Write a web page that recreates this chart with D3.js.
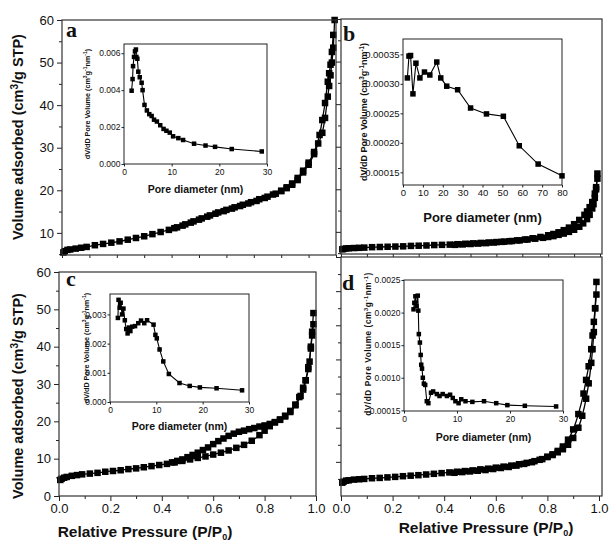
<!DOCTYPE html>
<html><head><meta charset="utf-8">
<script src="https://cdn.jsdelivr.net/npm/d3@7"></script>
<style>
body{margin:0;background:#fff}
svg{display:block}
text{font-family:"Liberation Sans",Arial,Helvetica,sans-serif;fill:#111}
</style>
</head><body>
<svg id="chart" width="609" height="546"></svg>
<script>
// ---------------- DATA ----------------
// Main isotherms: relative pressure (P/P0) and volume adsorbed (cm3/g STP)
const aAdsP = [0.005,0.01,0.02,0.03,0.05,0.07,0.09,0.12,0.15,0.18,0.21,0.24,0.27,0.30,0.33,0.36,0.39,0.42,0.45,0.48,0.51,0.54,0.57,0.60,0.63,0.66,0.69,0.72,0.75,0.78,0.80,0.82,0.84,0.86,0.88,0.90,0.92,0.935,0.95,0.96,0.97,0.975,0.98,0.985,0.99,0.995];
const aAdsV = [5.4,5.7,6.0,6.1,6.3,6.5,6.7,7.1,7.4,7.7,8.0,8.4,8.8,9.2,9.7,10.2,10.7,11.3,12.0,12.7,13.4,14.1,14.8,15.4,16.0,16.6,17.2,17.9,18.5,19.2,19.8,20.5,21.3,22.4,24.2,26.0,28.5,31.0,33.5,37.0,42.0,44.5,47.0,50.0,53.5,60.0];
const aDesP = [0.99,0.985,0.98,0.975,0.97,0.96,0.95,0.94,0.92,0.90,0.88,0.86,0.84,0.82,0.80,0.77,0.74,0.71,0.68,0.65,0.62,0.59,0.56,0.53,0.50,0.47,0.44,0.41];
const aDesV = [56.5,52.5,49.5,47.5,45.5,40.5,36.5,33.0,29.0,26.5,24.6,22.9,21.6,20.7,19.9,19.0,18.2,17.5,16.9,16.3,15.7,15.1,14.5,13.8,13.1,12.4,11.7,11.1];

const bAdsP = [0.005,0.01,0.02,0.03,0.05,0.07,0.09,0.12,0.15,0.18,0.21,0.24,0.27,0.30,0.33,0.36,0.39,0.42,0.45,0.48,0.51,0.54,0.57,0.60,0.63,0.66,0.69,0.72,0.75,0.78,0.80,0.82,0.84,0.86,0.88,0.90,0.92,0.935,0.95,0.96,0.97,0.975,0.98,0.985,0.99];
const bAdsV = [5.9,6.0,6.1,6.15,6.2,6.25,6.3,6.4,6.45,6.5,6.55,6.6,6.7,6.75,6.8,6.9,6.95,7.0,7.1,7.2,7.3,7.4,7.5,7.6,7.7,7.85,8.0,8.2,8.4,8.6,8.8,9.0,9.3,9.6,10.0,10.5,11.2,12.0,13.0,14.0,15.5,16.5,18.0,20.0,23.7];
const bDesP = [0.99,0.985,0.98,0.97,0.96,0.95,0.94,0.92,0.90,0.88,0.86,0.84,0.82,0.80,0.77,0.74,0.71,0.68,0.65,0.62,0.59,0.56,0.53,0.50,0.47,0.44];
const bDesV = [22.5,20.5,19.0,17.0,15.8,14.8,14.0,12.8,11.8,11.0,10.4,9.9,9.5,9.2,8.8,8.5,8.2,8.0,7.8,7.65,7.5,7.35,7.25,7.15,7.05,6.95];

const cAdsP = [0.005,0.01,0.02,0.03,0.05,0.07,0.09,0.12,0.15,0.18,0.21,0.24,0.27,0.30,0.33,0.36,0.39,0.42,0.45,0.48,0.51,0.54,0.57,0.60,0.63,0.66,0.69,0.72,0.75,0.78,0.80,0.82,0.84,0.86,0.88,0.90,0.92,0.935,0.95,0.96,0.97,0.975,0.98,0.985,0.99];
const cAdsV = [4.3,4.6,4.9,5.1,5.4,5.6,5.8,6.0,6.2,6.5,6.7,6.9,7.2,7.4,7.7,8.0,8.3,8.6,9.0,9.4,9.8,10.2,10.6,11.1,11.6,12.2,12.9,13.7,14.8,16.3,17.5,18.7,19.7,20.5,21.5,22.8,24.5,26.5,29.0,31.0,34.0,36.0,40.0,44.0,49.0];
const cDesP = [0.99,0.985,0.98,0.97,0.96,0.95,0.94,0.92,0.90,0.88,0.86,0.84,0.82,0.80,0.78,0.76,0.74,0.72,0.70,0.68,0.66,0.64,0.62,0.60,0.58,0.56,0.54,0.52,0.50,0.48,0.46,0.44];
const cDesV = [46.0,43.0,39.5,34.5,31.0,28.5,26.8,24.3,22.5,21.3,20.4,19.8,19.3,18.9,18.6,18.2,17.9,17.5,17.2,16.7,16.1,15.4,14.7,13.9,13.0,12.3,11.6,11.0,10.4,9.8,9.4,9.0];

const dAdsP = [0.005,0.01,0.02,0.03,0.05,0.07,0.09,0.12,0.15,0.18,0.21,0.24,0.27,0.30,0.33,0.36,0.39,0.42,0.45,0.48,0.51,0.54,0.57,0.60,0.63,0.66,0.69,0.72,0.75,0.78,0.80,0.82,0.84,0.86,0.88,0.90,0.92,0.935,0.95,0.96,0.97,0.975,0.98,0.985,0.99];
const dAdsV = [3.9,4.2,4.5,4.6,4.8,4.9,5.0,5.2,5.3,5.45,5.6,5.8,5.95,6.1,6.3,6.5,6.7,6.9,7.1,7.3,7.5,7.8,8.0,8.3,8.6,8.9,9.3,9.7,10.2,10.8,11.4,12.0,12.8,13.7,15.0,17.0,20.0,23.5,28.5,33.0,39.0,43.0,48.0,55.0,62.7];
const dDesP = [0.99,0.985,0.98,0.975,0.97,0.96,0.95,0.94,0.92,0.90,0.88,0.86,0.84,0.82,0.80,0.77,0.74,0.71,0.68,0.65,0.62,0.59,0.56,0.53,0.50,0.47,0.44];
const dDesV = [59.0,55.0,51.0,47.0,43.0,38.0,34.0,30.0,24.0,19.5,16.5,14.5,13.2,12.2,11.5,10.6,9.9,9.4,8.9,8.5,8.2,7.9,7.6,7.4,7.2,7.0,6.8];

// Insets: pore diameter (nm) and dV/dD pore volume
const aPoreD = [1.6,1.8,1.9,2.1,2.3,2.5,2.6,2.8,3.0,3.3,3.7,3.9,4.3,4.8,5.3,5.8,6.3,6.9,7.6,8.3,8.9,9.6,10.3,11.4,12.4,14.7,17.1,19.1,22.6,28.9];
const aPoreV = [0.00397,0.0046,0.0053,0.0058,0.0061,0.0062,0.0058,0.0057,0.0050,0.0047,0.0044,0.0040,0.0032,0.0029,0.0027,0.0026,0.0024,0.0023,0.0021,0.0019,0.0018,0.0017,0.0015,0.0014,0.0013,0.0011,0.0010,0.00093,0.00081,0.00068];
const bPoreD = [2.2,3.0,3.8,5.0,6.5,8.5,10.8,13.5,17.0,19.0,22.0,27.5,34.0,42.0,50.5,58.5,68.0,80.0];
const bPoreV = [0.000310,0.000347,0.000348,0.000283,0.000335,0.000310,0.000320,0.000315,0.000337,0.000310,0.000296,0.000290,0.000259,0.000249,0.000245,0.000195,0.000164,0.000144];
const cPoreD = [1.7,1.85,2.1,2.3,2.6,2.9,3.2,3.5,3.8,4.1,4.4,4.8,5.4,6.1,6.7,7.4,8.0,9.4,9.8,10.1,10.7,11.5,12.7,15.0,17.2,19.4,23.0,28.5];
const cPoreV = [0.00288,0.0035,0.00323,0.0034,0.0030,0.0032,0.0028,0.0025,0.00235,0.00255,0.00243,0.00258,0.0026,0.0027,0.00279,0.0027,0.0028,0.00265,0.0023,0.00218,0.0018,0.00139,0.00096,0.00065,0.00055,0.0005,0.00047,0.0004];
const dPoreD = [1.8,1.95,2.15,2.35,2.6,2.7,2.8,3.0,3.15,3.25,3.4,3.55,3.75,4.0,4.3,4.6,5.1,5.5,6.2,6.7,7.3,8.1,8.7,9.2,9.7,10.3,10.8,11.6,12.9,15.1,17.4,19.5,22.8,28.7];
const dPoreV = [0.00205,0.00215,0.00225,0.0021,0.00226,0.00203,0.00167,0.00154,0.00135,0.0012,0.00114,0.0010,0.00091,0.00089,0.00064,0.00061,0.00077,0.00079,0.00075,0.00072,0.00075,0.00072,0.00074,0.00069,0.00064,0.00061,0.00067,0.00064,0.00063,0.00064,0.00061,0.00058,0.00057,0.00056];

// Tick labels
const pressureTicks = [0.0,0.2,0.4,0.6,0.8,1.0];
const volumeTicks = [0,10,20,30,40,50,60];
const insetTicksA = [0,0.002,0.004,0.006];
const insetTicksB = [0.00015,0.00020,0.00025,0.00030,0.00035];
const insetTicksC = [0,0.001,0.002,0.003];
const insetTicksD = [0.0005,0.0010,0.0015,0.0020,0.0025];
const insetLabelsD = ["0.00015","0.0010","0.0015","0.0020","0.0025"];
const poreTicks30 = [0,10,20,30];
const poreTicks80 = [0,10,20,30,40,50,60,70,80];

// ---------------- DRAWING ----------------
const svg = d3.select("#chart");
const zip = (xs, ys) => xs.map((x, i) => [x, ys[i]]);
let clipId = 0;

function axisStyle(g, fs) {
  g.select(".domain").remove();
  g.selectAll("line").attr("stroke", "#222");
  g.selectAll("text").attr("font-size", fs).attr("fill", "#222")
    .style("font-family", '"Liberation Sans",Arial,sans-serif');
}

function mainPanel(o) {
  const x = d3.scaleLinear().domain(o.xd).range([o.l, o.xr || o.r]);
  const y = d3.scaleLinear().domain(o.yd).range([o.b, o.t]);
  const g = svg.append("g");
  const id = "clip" + (clipId++);
  g.append("clipPath").attr("id", id).append("rect")
    .attr("x", o.l - 4).attr("y", o.t - 4).attr("width", o.r - o.l + 8).attr("height", o.b - o.t + 8);

  const ya = g.append("g").attr("transform", `translate(${o.l},0)`)
    .call(d3.axisLeft(y).tickValues(o.yMajor).tickSize(5).tickPadding(3)
      .tickFormat(o.yLabels ? d3.format("d") : ""));
  axisStyle(ya, 13);
  const ym = g.append("g").attr("transform", `translate(${o.l},0)`)
    .call(d3.axisLeft(y).tickValues(o.yMinor).tickSize(3).tickFormat(""));
  axisStyle(ym, 13);
  const xa = g.append("g").attr("transform", `translate(0,${o.b})`)
    .call(d3.axisBottom(x).tickValues(pressureTicks).tickSize(o.xLabels ? 5 : 3).tickPadding(3)
      .tickFormat(o.xLabels ? d3.format(".1f") : ""));
  axisStyle(xa, 13);
  const xm = g.append("g").attr("transform", `translate(0,${o.b})`)
    .call(d3.axisBottom(x).tickValues([0.1,0.3,0.5,0.7,0.9]).tickSize(3).tickFormat(""));
  axisStyle(xm, 13);

  const plot = g.append("g").attr("clip-path", `url(#${id})`);
  const line = d3.line().x(d => x(d[0])).y(d => y(d[1])).curve(d3.curveMonotoneX);
  [o.ads, o.des].forEach(s => {
    const pts = s.slice().sort((p, q) => p[0] - q[0]);
    plot.append("path").attr("d", line(pts)).attr("fill", "none")
      .attr("stroke", "#000").attr("stroke-width", 1.3);
  });
  const ms = 6.5;
  [o.ads, o.des].forEach(s => {
    plot.selectAll(null).data(s).enter().append("rect")
      .attr("x", d => x(d[0]) - ms / 2).attr("y", d => y(d[1]) - ms / 2)
      .attr("width", ms).attr("height", ms).attr("fill", "#000");
  });
  g.append("rect").attr("x", o.l).attr("y", o.t).attr("width", o.r - o.l).attr("height", o.b - o.t)
    .attr("fill", "none").attr("stroke", "#333").attr("stroke-width", 1.2);
  g.append("text").attr("x", o.lx).attr("y", o.ly).text(o.letter)
    .attr("font-size", 22).attr("font-weight", "bold")
    .style("font-family", '"Liberation Serif","Times New Roman",serif');
}

function inset(o) {
  const x = d3.scaleLinear().domain(o.xd).range([o.l, o.r]);
  const y = d3.scaleLinear().domain(o.yd).range([o.b, o.t]);
  const g = svg.append("g");
  g.append("rect").attr("x", o.l).attr("y", o.t).attr("width", o.r - o.l).attr("height", o.b - o.t)
    .attr("fill", "#fff").attr("stroke", "#222").attr("stroke-width", 1);
  const ya = g.append("g").attr("transform", `translate(${o.l},0)`)
    .call(d3.axisLeft(y).tickValues(o.yTicks).tickSize(2.5).tickPadding(1)
      .tickFormat((d, i) => o.yLabels[i]));
  axisStyle(ya, o.fs);
  const xa = g.append("g").attr("transform", `translate(0,${o.b})`)
    .call(d3.axisBottom(x).tickValues(o.xTicks).tickSize(2.5).tickPadding(2).tickFormat(d3.format("d")));
  axisStyle(xa, o.fs);

  const line = d3.line().x(d => x(d[0])).y(d => y(d[1]));
  g.append("path").attr("d", line(o.data)).attr("fill", "none").attr("stroke", "#000").attr("stroke-width", 1.1);
  const ms = o.ms;
  g.selectAll(null).data(o.data).enter().append("rect")
    .attr("x", d => x(d[0]) - ms / 2).attr("y", d => y(d[1]) - ms / 2)
    .attr("width", ms).attr("height", ms).attr("fill", "#000");

  g.append("text").attr("x", (o.l + o.r) / 2).attr("y", o.xty).attr("text-anchor", "middle")
    .attr("font-size", o.xtfs).attr("font-weight", "bold").text("Pore diameter (nm)");
  const yt = g.append("text").attr("transform", `translate(${o.ytx},${o.yty}) rotate(-90)`)
    .attr("text-anchor", "middle").attr("font-size", o.ytfs).attr("font-weight", "bold")
    .attr("letter-spacing", o.yls || 0);
  yt.append("tspan").text("dV/dD Pore Volume (cm");
  yt.append("tspan").attr("baseline-shift", "super").attr("font-size", o.ytfs * 0.7).text("3");
  yt.append("tspan").text("g");
  yt.append("tspan").attr("baseline-shift", "super").attr("font-size", o.ytfs * 0.7).text("-1");
  yt.append("tspan").text("nm");
  yt.append("tspan").attr("baseline-shift", "super").attr("font-size", o.ytfs * 0.7).text("-1");
  yt.append("tspan").text(")");
}

const f3 = d3.format(".3f"), f5 = d3.format(".5f");

mainPanel({l: 62, r: 336, t: 20, b: 255, xd: [0, 1], yd: [4.8, 60],
  yMajor: [10,20,30,40,50,60], yMinor: [5,15,25,35,45,55], yLabels: true, xLabels: false,
  ads: zip(aAdsP, aAdsV), des: zip(aDesP, aDesV), letter: "a", lx: 66, ly: 37});
mainPanel({l: 341, r: 602, xr: 600, t: 19, b: 254, xd: [0, 1], yd: [4.8, 60],
  yMajor: [10,20,30,40,50,60], yMinor: [5,15,25,35,45,55], yLabels: false, xLabels: false,
  ads: zip(bAdsP, bAdsV), des: zip(bDesP, bDesV), letter: "b", lx: 343, ly: 41});
mainPanel({l: 59, r: 316, t: 272, b: 496, xd: [0, 1], yd: [0, 60],
  yMajor: volumeTicks, yMinor: [5,15,25,35,45,55], yLabels: true, xLabels: true,
  ads: zip(cAdsP, cAdsV), des: zip(cDesP, cDesV), letter: "c", lx: 66, ly: 286});
mainPanel({l: 341, r: 602, xr: 599, t: 257, b: 496, xd: [0, 1], yd: [0, 70],
  yMajor: [10,20,30,40,50,60,70], yMinor: [5,15,25,35,45,55,65], yLabels: false, xLabels: true,
  ads: zip(dAdsP, dAdsV), des: zip(dDesP, dDesV), letter: "d", lx: 342, ly: 290});

inset({l: 124, r: 267, t: 44, b: 164, xd: [0, 30], yd: [0, 0.0065],
  yTicks: insetTicksA, yLabels: insetTicksA.map(f3), xTicks: poreTicks30, fs: 8.5, ms: 4.5,
  data: zip(aPoreD, aPoreV), xty: 193, xtfs: 10.5, ytx: 90, yty: 104, ytfs: 7.2});
inset({l: 403, r: 562, t: 39, b: 185, xd: [0, 80], yd: [0.0001285, 0.000376],
  yTicks: insetTicksB, yLabels: insetTicksB.map(f5), xTicks: poreTicks80, fs: 9.5, ms: 5.5,
  data: zip(bPoreD, bPoreV), xty: 222, xtfs: 13, ytx: 367, yty: 112, ytfs: 9});
inset({l: 110, r: 249, t: 294, b: 402, xd: [0, 30], yd: [0, 0.0037],
  yTicks: insetTicksC, yLabels: insetTicksC.map(f3), xTicks: poreTicks30, fs: 8.5, ms: 4.5,
  data: zip(cPoreD, cPoreV), xty: 430, xtfs: 10.5, ytx: 89, yty: 348, ytfs: 7.2});
inset({l: 404, r: 563, t: 280, b: 411, xd: [0, 30], yd: [0.00049, 0.0025],
  yTicks: insetTicksD, yLabels: insetLabelsD, xTicks: poreTicks30, fs: 8.5, ms: 4.5,
  data: zip(dPoreD, dPoreV), xty: 441, xtfs: 10.5, ytx: 371, yty: 344, ytfs: 8.2, yls: 0.6});

function yTitle(cx, cy) {
  const t = svg.append("text").attr("transform", `translate(${cx},${cy}) rotate(-90)`)
    .attr("text-anchor", "middle").attr("font-size", 14.5).attr("font-weight", "bold");
  t.append("tspan").text("Volume adsorbed (cm");
  t.append("tspan").attr("baseline-shift", "super").attr("font-size", 10).text("3");
  t.append("tspan").text("/g STP)");
}
yTitle(23, 137);
yTitle(23, 396);
function xTitle(cx, cy) {
  const t = svg.append("text").attr("x", cx).attr("y", cy)
    .attr("text-anchor", "middle").attr("font-size", 15.5).attr("font-weight", "bold");
  t.append("tspan").text("Relative Pressure (P/P");
  t.append("tspan").attr("baseline-shift", "-3").attr("font-size", 9).text("0");
  t.append("tspan").text(")");
}
xTitle(145, 537);
xTitle(486, 533);
</script>
</body></html>
